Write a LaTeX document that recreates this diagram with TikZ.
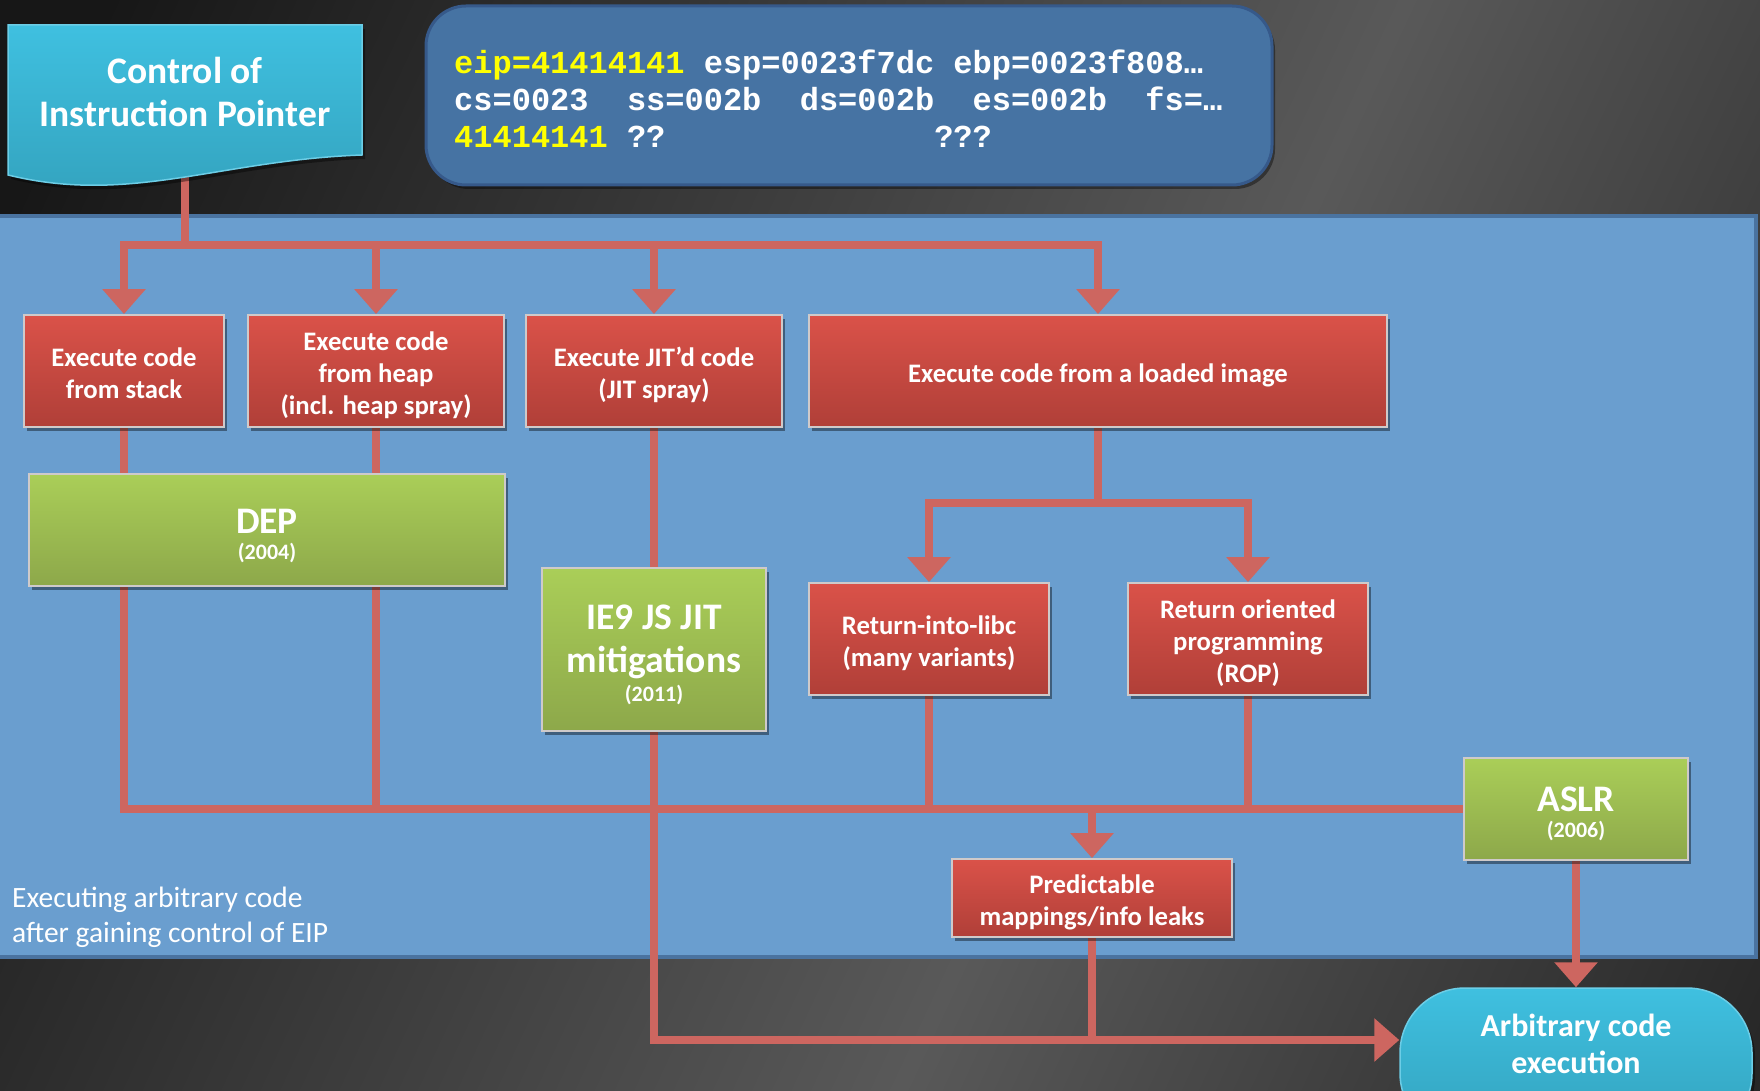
\documentclass[tikz,border=0pt]{standalone}
\usepackage{fontspec}
\setmainfont{Carlito}
\newfontfamily\regfont{Liberation Mono}
\usetikzlibrary{arrows.meta,shadows}
\pgfdeclarelayer{bglayer}
\pgfdeclarelayer{linelayer}
\pgfsetlayers{bglayer,linelayer,main}
\definecolor{bgDark}{HTML}{171717}
\definecolor{bgMid}{HTML}{595959}
\definecolor{bgRight}{HTML}{232323}
\definecolor{panelBlue}{HTML}{6A9ECF}
\definecolor{panelEdge}{HTML}{4A73A0}
\definecolor{regBlue}{HTML}{4673A3}
\definecolor{regEdge}{HTML}{36598A}
\definecolor{redT}{HTML}{DA5249}
\definecolor{redB}{HTML}{B03F38}
\definecolor{greenT}{HTML}{AACE58}
\definecolor{greenB}{HTML}{8DA84A}
\definecolor{cyanT}{HTML}{3FC0E0}
\definecolor{cyanB}{HTML}{33A2BD}
\definecolor{cyanEdge}{HTML}{6CCDE6}
\definecolor{lineRed}{HTML}{CD6660}
\definecolor{boxEdge}{HTML}{CFCACA}
\definecolor{yel}{HTML}{FFFF00}
\pgfdeclarehorizontalshading{bgshade}{100bp}{color(0bp)=(bgDark); color(20bp)=(bgDark); color(58bp)=(bgMid); color(85bp)=(bgRight); color(100bp)=(bgRight)}
\newcommand\regsp[1]{\hspace*{#1\fontcharwd\font`\0}}
\newcommand\rs{\rule[-5pt]{0pt}{32pt}}
\tikzset{
  shad/.style={drop shadow={shadow xshift=3pt, shadow yshift=-4pt, opacity=0.4, fill=black}},
  box/.style={draw=boxEdge, line width=1.8, inner sep=0, align=center, text=white, shad},
  redbox/.style={box, top color=redT, bottom color=redB, font=\bfseries\fontsize{26.7}{32}\selectfont},
  greenbox/.style={box, top color=greenT, bottom color=greenB, font=\bfseries\fontsize{37.5}{43}\selectfont},
  conn/.style={draw=lineRed, line width=8},
  arr/.style={conn, -{Triangle[width=42pt,length=25pt]}},
  regline/.style={anchor=base west, inner sep=0, text=white, font=\regfont\bfseries\fontsize{32}{37}\selectfont},
}
\begin{document}
\begin{tikzpicture}[x=1pt,y=-1pt]
\useasboundingbox (0,0) rectangle (1760,1091);
\begin{pgfonlayer}{bglayer}
  \shade[shading=bgshade, shading angle=-25] (0,0) rectangle (1760,1091);
  \fill[panelBlue] (-5,216) rectangle (1756,957);
  \draw[panelEdge, line width=4] (-5,216) -- (1756,216) -- (1756,957) -- (-5,957);
\end{pgfonlayer}

% title shape
\path[top color=cyanT, bottom color=cyanB, draw=cyanEdge, line width=1.5, shad]
  (8,25) -- (362,25) -- (362,155) .. controls (220,160) and (130,205) .. (8,175) -- cycle;
\node[text=white, align=center, font=\bfseries\fontsize{37.5}{43}\selectfont] (ctrl) at (185,92) {Control of\\Instruction Pointer};
\coordinate (ctrlbot) at (185,176);

% register box
\node[draw=regEdge, fill=regBlue, line width=3, rounded corners=40, minimum width=846, minimum height=179, shad] (regbox) at (849,95.5) {};
\node[regline] (r1) at (454,73.5) {{\color{yel}eip=41414141}\regsp{1}esp=0023f7dc\regsp{1}ebp=0023f808…};
\node[regline] (r2) at (454,110.5) {cs=0023\regsp{2}ss=002b\regsp{2}ds=002b\regsp{2}es=002b\regsp{2}fs=…};
\node[regline] (r3) at (454,147.5) {{\color{yel}41414141}\regsp{1}??\regsp{14}???};

% boxes
\node[redbox, minimum width=200, minimum height=112] (stack) at (124,371) {\rs Execute code\\\rs from stack};
\node[redbox, minimum width=256, minimum height=112] (heap) at (376,371) {\rs Execute code\\\rs from heap\\\rs (incl. heap spray)};
\node[redbox, minimum width=256, minimum height=112] (jit) at (654,371) {\rs Execute JIT’d code\\\rs (JIT spray)};
\node[redbox, minimum width=578, minimum height=112] (loaded) at (1098,371) {\rs Execute code from a loaded image};
\node[greenbox, minimum width=476, minimum height=112] (dep) at (267,530) {\rule{0pt}{37pt}DEP\\[-17pt]{\fontsize{22}{26}\selectfont (2004)}};
\node[greenbox, minimum width=224, minimum height=163] (ie9) at (654,649.5) {\rule{0pt}{36pt}IE9 JS JIT\\mitigations\\[-14pt]{\fontsize{22}{26}\selectfont (2011)}};
\node[redbox, minimum width=240, minimum height=112] (libc) at (929,639) {\rs Return-into-libc\\\rs (many variants)};
\node[redbox, minimum width=240, minimum height=112] (rop) at (1248,639) {\rs Return oriented\\\rs programming\\\rs (ROP)};
\node[greenbox, minimum width=224, minimum height=102] (aslr) at (1576,809) {\rule{0pt}{35pt}ASLR\\[-17pt]{\fontsize{22}{26}\selectfont (2006)}};
\node[redbox, minimum width=280, minimum height=78] (pred) at (1092,898) {\rs Predictable\\\rs mappings/info leaks};
\node[draw=cyanEdge, line width=1.5, top color=cyanT, bottom color=cyanB, rounded corners=65, minimum width=352, minimum height=150, shad] (arbshape) at (1576,1063) {};
\node[text=white, align=center, font=\bfseries\fontsize{32}{37}\selectfont] (arb) at (1576,1044) {Arbitrary code\\execution};

% panel label
\node[anchor=base west, inner sep=0, text=white, font=\fontsize{29.5}{35}\selectfont] (pl1) at (12,907) {Executing arbitrary code};
\node[anchor=base west, inner sep=0, text=white, font=\fontsize{29.5}{35}\selectfont] (pl2) at (12,942) {after gaining control of EIP};

\coordinate (busY) at (0,245);
\coordinate (splitY) at (0,503);
\coordinate (jY) at (0,1040);

\begin{pgfonlayer}{linelayer}
  \draw[conn] (ctrlbot) -- (ctrlbot |- busY);
  \draw[arr] (ctrlbot |- busY) -| (stack.north);
  \draw[arr] (ctrlbot |- busY) -| (loaded.north);
  \draw[arr] (heap.north |- busY) -- (heap.north);
  \draw[arr] (jit.north |- busY) -- (jit.north);
  \draw[conn] (stack.south) |- (aslr.west);
  \draw[conn] (heap.south) -- (heap.south |- aslr.west);
  \draw[conn] (libc.south) -- (libc.south |- aslr.west);
  \draw[conn] (rop.south) -- (rop.south |- aslr.west);
  \draw[arr] (pred.north |- aslr.west) -- (pred.north);
  \draw[conn] (loaded.south) -- (loaded.south |- splitY);
  \draw[arr] (loaded.south |- splitY) -| (libc.north);
  \draw[arr] (loaded.south |- splitY) -| (rop.north);
  \draw[arr] (jit.south) -- (jit.south |- jY) -- (jY -| arbshape.west);
  \draw[conn] (pred.south) -- (pred.south |- jY);
  \draw[arr] (aslr.south) -- (arbshape.north);
\end{pgfonlayer}
\end{tikzpicture}
\end{document}
